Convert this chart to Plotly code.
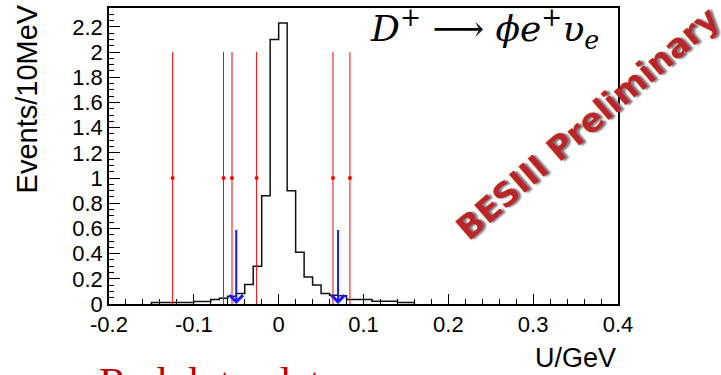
import plotly.graph_objects as go

# Histogram: lower bin edges (GeV) and contents (Events/10MeV)
bin_lo = [-0.15, -0.14, -0.13, -0.12, -0.11, -0.10, -0.09, -0.08, -0.07, -0.06,
          -0.05, -0.04, -0.03, -0.02, -0.01, 0.00, 0.01, 0.02, 0.03, 0.04,
          0.05, 0.06, 0.07, 0.08, 0.09, 0.10, 0.11, 0.12, 0.13, 0.14, 0.15]
counts = [0.012, 0.012, 0.012, 0.012, 0.012, 0.02, 0.02, 0.035, 0.045, 0.062,
          0.084, 0.155, 0.30, 0.86, 2.10, 2.23, 0.90, 0.41, 0.215, 0.15,
          0.084, 0.07, 0.065, 0.035, 0.035, 0.035, 0.022, 0.022, 0.022, 0.012, 0.012]
bin_width = 0.01

# Data points (red) with errors
data_x = [-0.125, -0.065, -0.055, -0.026, 0.064, 0.084]
data_y = [1, 1, 1, 1, 1, 1]
data_err = [1, 1, 1, 1, 1, 1]

# Signal window arrows
arrow_x = [-0.05, 0.07]
arrow_top = 0.6

x_ticks = [-0.2, -0.1, 0, 0.1, 0.2, 0.3, 0.4]
x_ticktext = ["-0.2", "-0.1", "0", "0.1", "0.2", "0.3", "0.4"]
y_ticks = [0, 0.2, 0.4, 0.6, 0.8, 1, 1.2, 1.4, 1.6, 1.8, 2, 2.2]
y_ticktext = ["0", "0.2", "0.4", "0.6", "0.8", "1", "1.2", "1.4", "1.6", "1.8", "2", "2.2"]

step_x = [bin_lo[0]] + bin_lo + [bin_lo[-1] + bin_width]
step_y = [0] + counts + [0]

fig = go.Figure()
fig.add_trace(go.Scatter(x=step_x, y=step_y, mode="lines", line_shape="hv",
                         line=dict(color="#111111", width=1.5), showlegend=False,
                         hoverinfo="skip"))
fig.add_trace(go.Scatter(x=data_x, y=data_y, mode="markers",
                         marker=dict(color="red", size=4),
                         error_y=dict(type="data", array=data_err, visible=True,
                                      width=0, thickness=1, color="red"),
                         showlegend=False))

annotations = []
for ax_ in arrow_x:
    annotations.append(dict(x=ax_, y=0, ax=ax_, ay=arrow_top, xref="x", yref="y",
                            axref="x", ayref="y", text="", showarrow=True,
                            arrowhead=4, arrowsize=1.3, arrowwidth=2,
                            arrowcolor="#1a1aff"))

def px_x(p):
    return (p - 109) / 509.0

def px_y(p):
    return (304 - p) / 298.0

annotations += [
    dict(text="Events/10MeV", xref="paper", yref="paper", x=px_x(27), y=px_y(98),
         textangle=-90, showarrow=False, font=dict(family="Liberation Sans", size=29, color="black"),
         xanchor="center", yanchor="middle"),
    dict(text="U/GeV", xref="paper", yref="paper", x=px_x(618), y=px_y(358),
         showarrow=False, font=dict(family="Liberation Sans", size=27, color="black"),
         xanchor="right", yanchor="middle"),
    dict(text="<i>D</i><sup>+</sup>\u00a0⟶\u00a0<i>ϕe</i><sup>+</sup><i>υ</i><sub><i>e</i></sub>",
         xref="paper", yref="paper", x=px_x(368), y=px_y(27), showarrow=False,
         font=dict(family="DejaVu Serif", size=36, color="black"),
         xanchor="left", yanchor="middle"),
    dict(text="<b>BESIII Preliminary</b>", xref="paper", yref="paper",
         x=px_x(587), y=px_y(122), textangle=-41, showarrow=False,
         font=dict(family="DejaVu Sans", size=33, color="#b8262c", shadow="2px 2px 2px #777"),
         xanchor="center", yanchor="middle"),
    dict(text="Red dots: data", xref="paper", yref="paper", x=px_x(97), y=px_y(358),
         showarrow=False, font=dict(family="Liberation Serif", size=42, color="#c00000"),
         xanchor="left", yanchor="top"),
]

fig.update_layout(
    width=721, height=375,
    margin=dict(l=109, r=103, t=6, b=71),
    plot_bgcolor="white", paper_bgcolor="white",
    annotations=annotations,
    xaxis=dict(range=[-0.2, 0.4], tickmode="array", tickvals=x_ticks, ticktext=x_ticktext,
               ticks="inside", ticklen=10, tickwidth=1, tickcolor="black",
               minor=dict(ticks="inside", ticklen=5, dtick=0.02, tick0=0, tickcolor="black"),
               showline=True, linecolor="black", linewidth=1.5, mirror=True,
               showgrid=False, zeroline=False,
               tickfont=dict(family="Liberation Sans", size=22, color="black")),
    yaxis=dict(range=[0, 2.35], tickmode="array", tickvals=y_ticks, ticktext=y_ticktext,
               ticks="inside", ticklen=11, tickwidth=1, tickcolor="black",
               minor=dict(ticks="inside", ticklen=5, dtick=0.05, tick0=0, tickcolor="black"),
               showline=True, linecolor="black", linewidth=1.5, mirror=True,
               showgrid=False, zeroline=False,
               tickfont=dict(family="Liberation Sans", size=22, color="black")),
)

fig.write_html("out.html", config={"displayModeBar": False},
               post_script="document.body.style.margin='0';")
